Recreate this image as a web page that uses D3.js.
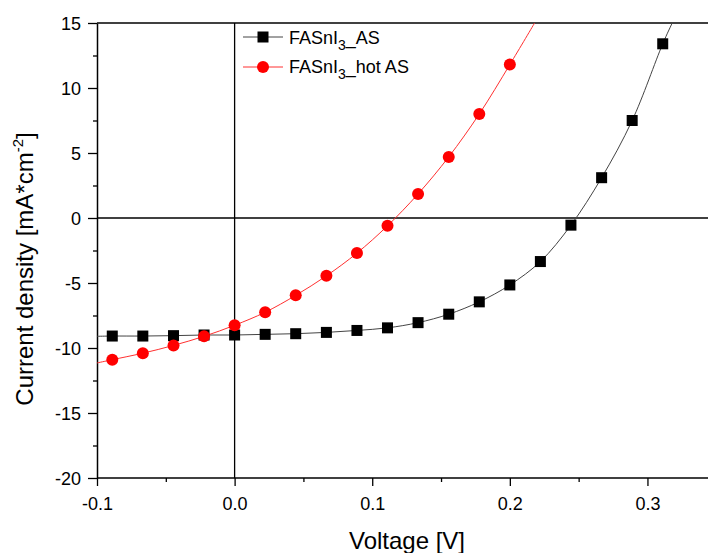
<!DOCTYPE html>
<html><head><meta charset="utf-8">
<script src="https://cdn.jsdelivr.net/npm/d3@7"></script>
<style>body{margin:0;background:#fff}svg{display:block}text{font-family:Arial,"Liberation Sans",sans-serif}</style>
</head><body><svg id="c" width="708" height="553"></svg>
<script>
const voltage = [-0.0889,-0.0667,-0.0444,-0.0222,0.0,0.0222,0.0444,0.0667,0.0889,0.1111,0.1333,0.1556,0.1778,0.2,0.2222,0.2444,0.2667,0.2889,0.3111];
const jAS = [-9.08,-9.08,-9.05,-9.0,-9.0,-8.95,-8.9,-8.8,-8.65,-8.45,-8.05,-7.4,-6.45,-5.15,-3.35,-0.55,3.1,7.5,13.4];
const jHot = [-10.9,-10.4,-9.8,-9.1,-8.25,-7.25,-5.95,-4.45,-2.7,-0.6,1.85,4.7,8.0,11.8];
// fitted-curve end points (curve runs past the markers)
const asCurveStart = [-0.1, -9.1], asCurveEnd = [0.318, 15];
const hotCurveStart = [-0.1, -11.15], hotCurveEnd = [0.218, 15];
const xTicks = [-0.1, 0.0, 0.1, 0.2, 0.3];
const yTicks = [-20, -15, -10, -5, 0, 5, 10, 15];
const seriesNames = ["FASnI3_AS", "FASnI3_hot AS"];

const svg = d3.select("#c");
const L = 97, R = 708, T = 23, B = 478;
const x = d3.scaleLinear().domain([-0.1, 0.344]).range([L, R]);
const y = d3.scaleLinear().domain([-20, 15]).range([B, T]);
const hy = s => s.replace(/\u2212/g, "-");

svg.append("clipPath").attr("id","clip").append("rect").attr("x",L).attr("y",T).attr("width",R-L).attr("height",B-T);

// axes
const xAxis = d3.axisBottom(x).tickValues(xTicks).tickFormat(d=>hy(d3.format(".1f")(d))).tickSize(8).tickSizeOuter(0);
const gx = svg.append("g").attr("transform",`translate(0,${B})`).call(xAxis);
const xMinor = d3.range(-0.05, 0.34, 0.1);
svg.append("g").attr("transform",`translate(0,${B})`).call(d3.axisBottom(x).tickValues(xMinor).tickSize(4).tickFormat("")).call(g=>g.select(".domain").remove());
const yAxis = d3.axisLeft(y).tickValues(yTicks).tickFormat(d=>hy(String(d))).tickSize(9).tickSizeOuter(0);
const gy = svg.append("g").attr("transform",`translate(${L},0)`).call(yAxis);
const yMinor = d3.range(-17.5, 15, 5);
svg.append("g").attr("transform",`translate(${L},0)`).call(d3.axisLeft(y).tickValues(yMinor).tickSize(4).tickFormat("")).call(g=>g.select(".domain").remove());
svg.selectAll(".domain").attr("stroke","#000").attr("stroke-width",1.5);
svg.selectAll(".tick line").attr("stroke","#000").attr("stroke-width",1.3);
gx.selectAll(".tick text").attr("font-size",18).attr("fill","#000").attr("y",32).attr("dy",0);
gy.selectAll(".tick text").attr("font-size",18).attr("fill","#000").attr("x",-16).attr("dy","0.35em");
gx.select(".domain").remove();
svg.append("line").attr("x1",L).attr("x2",R).attr("y1",B).attr("y2",B).attr("stroke","#000").attr("stroke-width",1.5);

// top frame line and zero lines
svg.append("line").attr("x1",L).attr("x2",R).attr("y1",T).attr("y2",T).attr("stroke","#000").attr("stroke-width",1.5);
svg.append("line").attr("x1",x(0)).attr("x2",x(0)).attr("y1",T).attr("y2",B).attr("stroke","#000").attr("stroke-width",1.3);
svg.append("line").attr("x1",L).attr("x2",R).attr("y1",y(0)).attr("y2",y(0)).attr("stroke","#000").attr("stroke-width",1.3);

// curves
const line = d3.line().x(d=>x(d[0])).y(d=>y(d[1])).curve(d3.curveCatmullRom.alpha(0.5));
const asPts = [asCurveStart, ...voltage.map((v,i)=>[v,jAS[i]]), asCurveEnd];
const hotPts = [hotCurveStart, ...jHot.map((j,i)=>[voltage[i],j]), hotCurveEnd];
const plot = svg.append("g").attr("clip-path","url(#clip)");
plot.append("path").datum(asPts).attr("d",line).attr("fill","none").attr("stroke","#444").attr("stroke-width",1);
plot.append("path").datum(hotPts).attr("d",line).attr("fill","none").attr("stroke","#ff3030").attr("stroke-width",1);

// markers
svg.append("g").selectAll("rect").data(jAS).join("rect")
  .attr("x",(d,i)=>x(voltage[i])-5.5).attr("y",d=>y(d)-5.5).attr("width",11).attr("height",11).attr("fill","#000");
svg.append("g").selectAll("circle").data(jHot).join("circle")
  .attr("cx",(d,i)=>x(voltage[i])).attr("cy",d=>y(d)).attr("r",6).attr("fill","#ff0000");

// legend
function legendText(g, name, base){
  const t = g.append("text").attr("x",289).attr("y",base).attr("font-size",18).attr("fill","#000");
  const m = name.match(/^(FASnI)(3)(.*)$/);
  t.append("tspan").text(m[1]);
  t.append("tspan").attr("dy",6).attr("font-size",14).text(m[2]);
  t.append("tspan").attr("dy",-6).text(m[3]);
}
const lg = svg.append("g");
lg.append("line").attr("x1",243).attr("x2",283).attr("y1",37).attr("y2",37).attr("stroke","#444");
lg.append("rect").attr("x",257.5).attr("y",31.5).attr("width",11).attr("height",11).attr("fill","#000");
legendText(lg, seriesNames[0], 44);
lg.append("line").attr("x1",243).attr("x2",283).attr("y1",67).attr("y2",67).attr("stroke","#ff3030");
lg.append("circle").attr("cx",263).attr("cy",67).attr("r",6).attr("fill","#ff0000");
legendText(lg, seriesNames[1], 73);

// axis titles
svg.append("text").attr("x",407).attr("y",549).attr("text-anchor","middle").attr("font-size",24).attr("fill","#000").text("Voltage [V]");
const yt = svg.append("text").attr("transform",`translate(33,269) rotate(-90)`).attr("text-anchor","middle").attr("font-size",24).attr("fill","#000");
yt.append("tspan").text("Current density [mA*cm");
yt.append("tspan").attr("dy",-10).attr("font-size",15).text("-2");
yt.append("tspan").attr("dy",10).text("]");
</script></body></html>
